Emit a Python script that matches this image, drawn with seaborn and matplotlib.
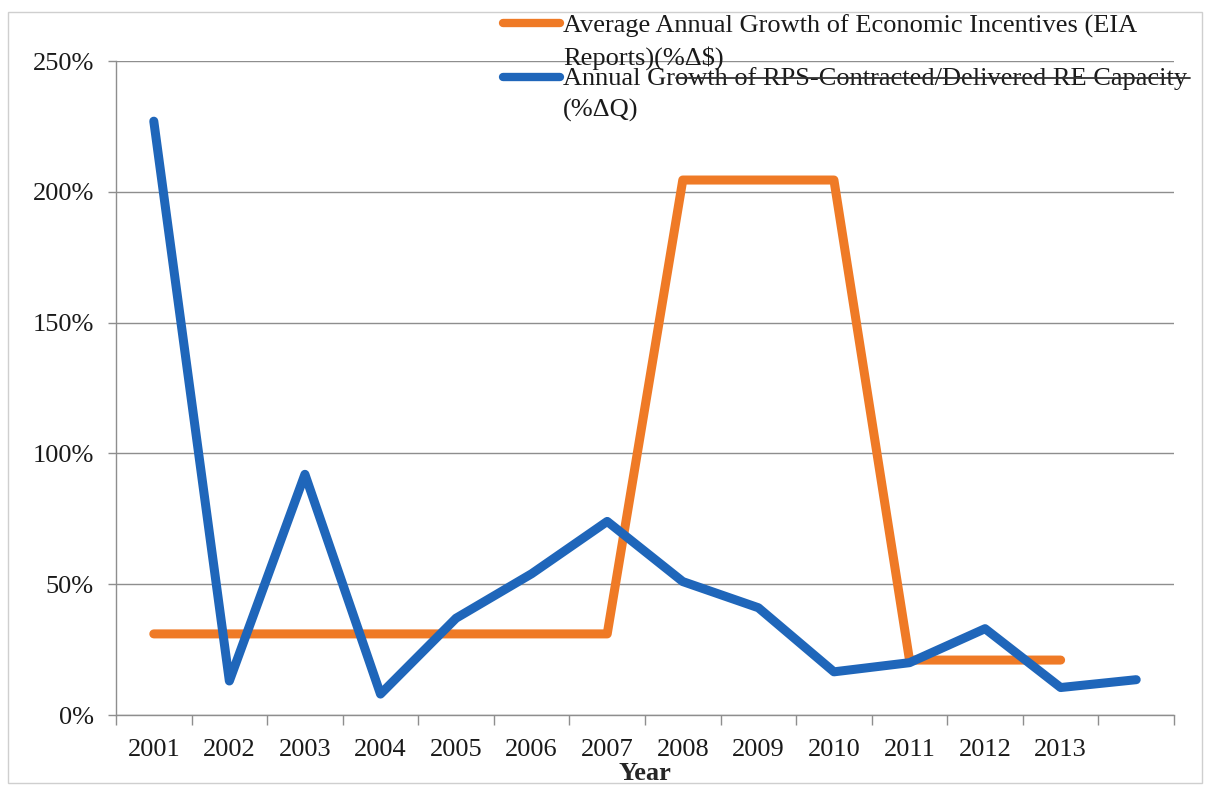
import numpy as np
import pandas as pd
import matplotlib
matplotlib.use("Agg")
import matplotlib.pyplot as plt
from matplotlib.lines import Line2D
from matplotlib.patches import Rectangle
from matplotlib.ticker import FixedLocator, FuncFormatter
import seaborn as sns

# ---- data -------------------------------------------------------------
years = list(range(2001, 2015))
year_labels = ["2001", "2002", "2003", "2004", "2005", "2006", "2007",
               "2008", "2009", "2010", "2011", "2012", "2013", ""]

# Average annual growth of economic incentives (%), no value for the last year
incentive_growth = [31, 31, 31, 31, 31, 31, 31, 204.5, 204.5, 204.5, 21, 21, 21, np.nan]
# Annual growth of RPS-contracted/delivered RE capacity (%)
capacity_growth = [227, 13, 92, 8, 37, 54, 74, 51, 41, 16.5, 20, 33, 10.5, 13.5]

series_names = [
    "Average Annual Growth of Economic Incentives (EIA\nReports)(%\u0394$)",
    "Annual Growth of RPS-Contracted/Delivered RE Capacity\n(%\u0394Q)",
]
y_ticks = [0, 50, 100, 150, 200, 250]

ORANGE = "#EF7A26"
BLUE = "#1F66BA"
GRID = "#8e8e8e"
TEXT = "#1a1a1a"
FS = 19

df = pd.DataFrame({
    "Year": years + years,
    "Growth": incentive_growth + capacity_growth,
    "Series": [series_names[0]] * len(years) + [series_names[1]] * len(years),
})

# ---- figure -------------------------------------------------------------
sns.set_theme(style="white")
plt.rcParams["font.family"] = ["Liberation Serif", "DejaVu Serif"]
plt.rcParams["text.color"] = TEXT
plt.rcParams["xtick.labelcolor"] = TEXT
plt.rcParams["ytick.labelcolor"] = TEXT

W, H = 1208, 787
fig = plt.figure(figsize=(W / 100, H / 100), dpi=100)
fig.patch.set_facecolor("white")

def fx(px):
    return px / W

def fy(py):
    return 1 - py / H

ax = fig.add_axes([fx(116), fy(715), fx(1174) - fx(116), fy(61) - fy(715)])

sns.lineplot(data=df, x="Year", y="Growth", hue="Series",
             palette=[ORANGE, BLUE], linewidth=6.5, estimator=None,
             legend=False, ax=ax)
for ln in ax.lines:
    ln.set_solid_joinstyle("round")
    ln.set_solid_capstyle("round")
    ln.set_zorder(3)

# y axis
ax.set_ylim(0, 250)
ax.yaxis.set_major_locator(FixedLocator(y_ticks))
ax.yaxis.set_major_formatter(FuncFormatter(lambda v, p: f"{int(v)}%"))
ax.grid(axis="y", color=GRID, linewidth=1.0)
ax.grid(axis="x", visible=False)
ax.tick_params(axis="y", which="major", direction="out", length=6,
               width=1, color=GRID, labelsize=FS, pad=10, left=True)

# x axis: category labels centred, tick marks between categories
ax.set_xlim(years[0] - 0.5, years[-1] + 0.5)
ax.set_xticks(years)
ax.set_xticklabels(year_labels)
ax.set_xticks([y - 0.5 for y in years] + [years[-1] + 0.5], minor=True)
ax.tick_params(axis="x", which="major", length=0, labelsize=FS, pad=17)
ax.tick_params(axis="x", which="minor", direction="out", length=7,
               width=1, color=GRID, bottom=True)
ax.set_xlabel("Year", fontsize=FS, fontweight="bold", labelpad=1)
ax.set_ylabel("")

for side in ("top", "right"):
    ax.spines[side].set_visible(False)
for side in ("left", "bottom"):
    ax.spines[side].set_color(GRID)
    ax.spines[side].set_linewidth(1.0)
ax.set_facecolor("none")

# ---- legend, drawn at the top of the chart ----------------------------------
# (handle centre, baseline of each wrapped line) in pixels from the top
legend_rows = [(23, (33, 65), ORANGE, series_names[0]),
               (77, (85, 117), BLUE, series_names[1])]
for handle_y, baselines, color, label in legend_rows:
    fig.add_artist(Line2D([fx(503), fx(560)], [fy(handle_y)] * 2,
                          transform=fig.transFigure, color=color,
                          linewidth=6.0, solid_capstyle="round", zorder=5))
    for line_text, base in zip(label.split("\n"), baselines):
        fig.text(fx(563), fy(base), line_text, fontsize=FS, va="baseline",
                 ha="left", zorder=5)

# rule running through the second legend entry
fig.add_artist(Line2D([fx(676), fx(1190)], [fy(78)] * 2,
                      transform=fig.transFigure, color="#333333",
                      linewidth=1.3, zorder=6))

# outer chart border
fig.add_artist(Rectangle((fx(8), fy(783)), fx(1202) - fx(8), fy(12) - fy(783),
                         transform=fig.transFigure, fill=False,
                         edgecolor="#cfcfcf", linewidth=1.0))

fig.savefig("out.png", dpi=100, facecolor="white")
